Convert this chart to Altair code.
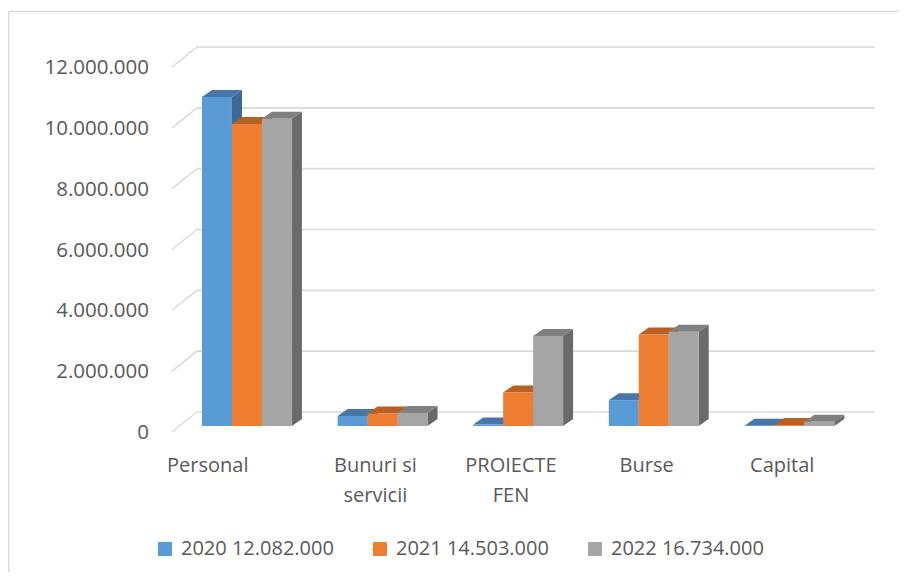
import altair as alt
import pandas as pd

# ---------------- data ----------------
categories = ["Personal", "Bunuri si\nservicii", "PROIECTE\nFEN", "Burse", "Capital"]
series = ["2020 12.082.000", "2021 14.503.000", "2022 16.734.000"]
v2020 = [10820000, 330000, 50000, 850000, 10000]
v2021 = [9930000, 410000, 1100000, 3010000, 30000]
v2022 = [10100000, 430000, 2960000, 3100000, 140000]
y_ticks = [0, 2000000, 4000000, 6000000, 8000000, 10000000, 12000000]
y_tick_labels = ["0", "2.000.000", "4.000.000", "6.000.000", "8.000.000", "10.000.000", "12.000.000"]

# ---------------- style / geometry ----------------
W, H = 678, 365
NCAT = len(categories)
YMAX = 12000000
PX_X = W / NCAT
PX_Y = H / YMAX
GROUP_START = 0.166
BAR_W = 0.221
D_X = 10 / PX_X          # bar depth (x) in data units
D_Y = 7 / PX_Y           # bar depth (y) in data units
FX, FY = 7.5, -6         # bar plane offset (px)
WX, WY = 25, -20         # back-wall offset (px)

front_cols = ["#5B9BD5", "#ED7D31", "#A5A5A5"]
top_cols = ["#4677A8", "#B85F23", "#808080"]
side_cols = ["#3D6A94", "#A05220", "#6A6A6A"]
TXT = "#595959"
GRID = "#D9D9D9"
FONT = "Open Sans"

values = [v2020, v2021, v2022]
front_rows, top_rows, side_rows = [], [], []
for j, s in enumerate(series):
    for i, c in enumerate(categories):
        v = values[j][i]
        x0 = i + GROUP_START + j * BAR_W
        x1 = x0 + BAR_W
        bid = f"{j}-{i}"
        front_rows.append(dict(series=s, x0=x0, x1=x1, v=v, zero=0))
        for x, ya, yb in [(x0, v, v), (x0 + D_X, v, v + D_Y), (x1, v, v + D_Y), (x1 + D_X, v + D_Y, v + D_Y)]:
            top_rows.append(dict(series=s, id=bid, x=x, y=ya, y2=yb))
        for x, ya, yb in [(x1, 0, v), (x1 + D_X, D_Y, v + D_Y)]:
            side_rows.append(dict(series=s, id=bid, x=x, y=ya, y2=yb))

front_df = pd.DataFrame(front_rows)
top_df = pd.DataFrame(top_rows)
side_df = pd.DataFrame(side_rows)
grid_df = pd.DataFrame(dict(v=y_ticks, label=y_tick_labels, gx0=0, gx1=NCAT))
cat_df = pd.DataFrame(dict(cat=categories, cx=[i + 0.5 for i in range(NCAT)], zero=0))

xs = alt.Scale(domain=[0, NCAT], nice=False, zero=False)
ys = alt.Scale(domain=[0, YMAX], nice=False)

layers = []

# back wall gridlines
layers.append(
    alt.Chart(grid_df).mark_rule(color=GRID, strokeWidth=1.6, xOffset=WX, x2Offset=WX, yOffset=WY).encode(
        x=alt.X("gx0:Q", scale=xs, axis=None), x2="gx1:Q", y=alt.Y("v:Q", scale=ys, axis=None)
    )
)
# side wall diagonals
layers.append(
    alt.Chart(grid_df).mark_rule(color=GRID, strokeWidth=1.6, x2Offset=WX, y2Offset=WY).encode(
        x=alt.X("gx0:Q", scale=xs, axis=None), x2="gx0:Q",
        y=alt.Y("v:Q", scale=ys, axis=None), y2="v:Q"
    )
)

for j, s in enumerate(series):
    layers.append(
        alt.Chart(side_df[side_df.series == s]).mark_area(
            color=side_cols[j], opacity=1, xOffset=FX, yOffset=FY, y2Offset=FY
        ).encode(
            x=alt.X("x:Q", scale=xs, axis=None), y=alt.Y("y:Q", scale=ys, axis=None, stack=None),
            y2="y2:Q", detail="id:N"
        )
    )
    layers.append(
        alt.Chart(top_df[top_df.series == s]).mark_area(
            color=top_cols[j], opacity=1, xOffset=FX, yOffset=FY, y2Offset=FY
        ).encode(
            x=alt.X("x:Q", scale=xs, axis=None), y=alt.Y("y:Q", scale=ys, axis=None, stack=None),
            y2="y2:Q", detail="id:N"
        )
    )
    layers.append(
        alt.Chart(front_df[front_df.series == s]).mark_rect(
            xOffset=FX, x2Offset=FX, yOffset=FY, y2Offset=FY
        ).encode(
            x=alt.X("x0:Q", scale=xs, axis=None), x2="x1:Q",
            y=alt.Y("v:Q", scale=ys, axis=None), y2="zero:Q",
            color=alt.Color(
                "series:N",
                scale=alt.Scale(domain=series, range=front_cols),
                legend=alt.Legend(
                    title=None, orient="none", legendX=-17, legendY=472, direction="horizontal",
                    columns=3, symbolType="square", symbolSize=196, symbolStrokeWidth=0,
                    labelFont=FONT, labelFontSize=20, labelColor=TXT, labelOffset=6,
                    columnPadding=36, labelLimit=400,
                ),
            ),
        )
    )

# y tick labels
layers.append(
    alt.Chart(grid_df).mark_text(align="right", baseline="middle", dx=-23, dy=1, font=FONT, fontSize=20.5, color=TXT).encode(
        x=alt.X("gx0:Q", scale=xs, axis=None), y=alt.Y("v:Q", scale=ys, axis=None), text="label:N"
    )
)
# category labels (the first one sits further left in the original)
lab_style = dict(align="center", baseline="alphabetic", dy=40, lineBreak="\n", lineHeight=30,
                 font=FONT, fontSize=20, color=TXT)
layers.append(
    alt.Chart(cat_df.iloc[:1]).mark_text(dx=-32, **lab_style).encode(
        x=alt.X("cx:Q", scale=xs, axis=None), y=alt.Y("zero:Q", scale=ys, axis=None), text="cat:N"
    )
)
layers.append(
    alt.Chart(cat_df.iloc[1:]).mark_text(**lab_style).encode(
        x=alt.X("cx:Q", scale=xs, axis=None), y=alt.Y("zero:Q", scale=ys, axis=None), text="cat:N"
    )
)
# outer frame (decoration)
layers.append(
    alt.Chart(grid_df.head(1)).mark_rule(color=GRID, strokeWidth=1.5).encode(
        x=alt.value(-164), x2=alt.value(W + 49), y=alt.value(-55.5)
    )
)
layers.append(
    alt.Chart(grid_df.head(1)).mark_rule(color=GRID, strokeWidth=1.5).encode(
        x=alt.value(-163.5), y=alt.value(-55.5), y2=alt.value(H + 140)
    )
)

chart = alt.layer(*layers).properties(
    width=W, height=H,
    autosize=alt.AutoSizeParams(type="none"),
    padding={"left": 164, "top": 59, "right": 49, "bottom": 140},
    background="white",
).configure(font=FONT).configure_view(stroke=None, strokeWidth=0)

chart.save("out.html", embed_options={"renderer": "svg", "actions": False})
